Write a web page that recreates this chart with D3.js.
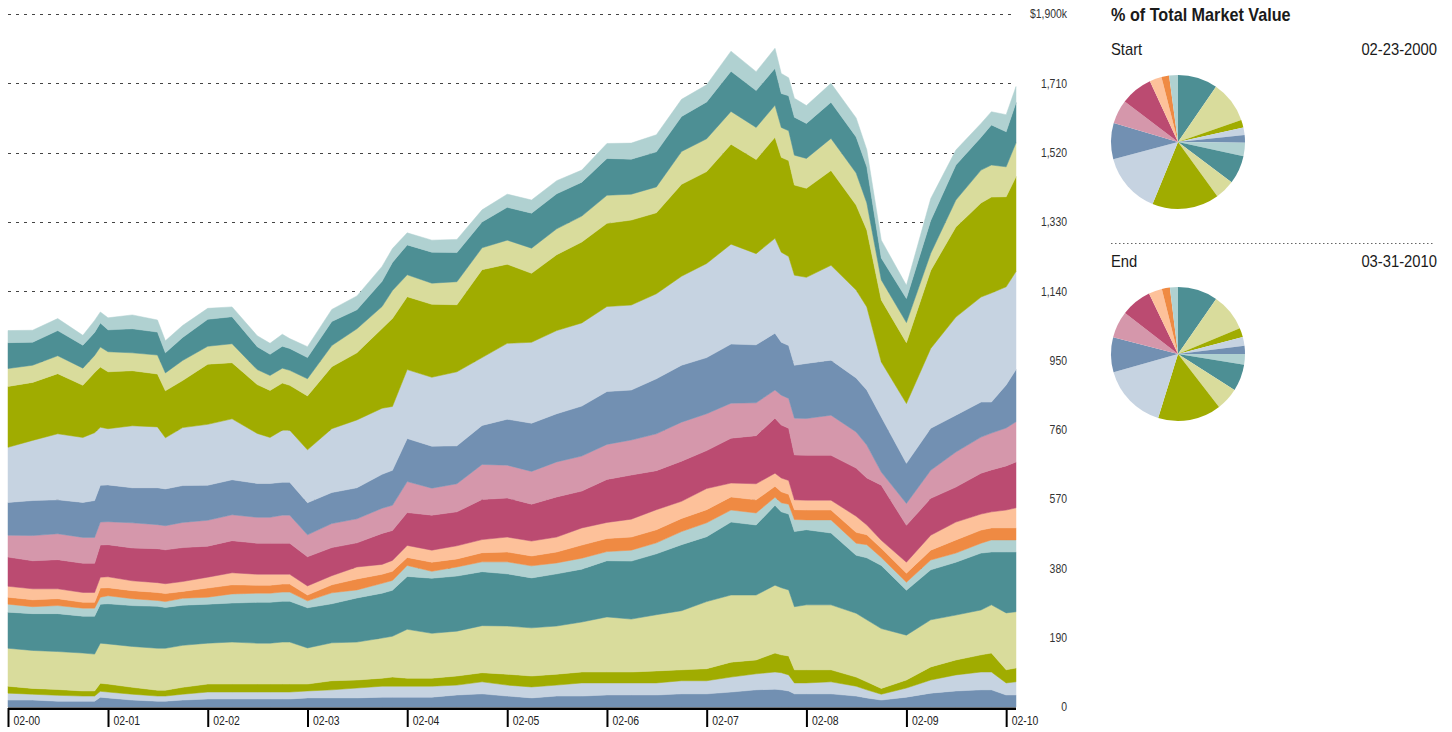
<!DOCTYPE html>
<html><head><meta charset="utf-8">
<script src="https://cdn.jsdelivr.net/npm/d3@7"></script>
<style>
body{margin:0;background:#fff;}
svg{display:block;font-family:"Liberation Sans",Arial,sans-serif;}
</style></head><body>
<svg id="chart" width="1452" height="732"></svg>
<script>
const dates = ["2000-02-23","2000-05-23","2000-08-23","2000-11-23",
"2001-01-05","2001-01-26","2001-02-23","2001-05-23","2001-08-23","2001-09-21","2001-11-23",
"2002-02-23","2002-05-23","2002-08-23","2002-10-09","2002-11-23","2002-12-20",
"2003-02-23","2003-05-23","2003-08-23","2003-11-23","2003-12-31",
"2004-02-23","2004-05-23","2004-08-23","2004-11-23",
"2005-02-23","2005-05-23","2005-08-23","2005-11-23",
"2006-02-23","2006-05-23","2006-08-23","2006-11-23",
"2007-02-23","2007-05-23","2007-08-23","2007-10-31","2007-11-23","2007-12-20",
"2008-01-10","2008-02-23","2008-05-23","2008-08-23","2008-10-01","2008-11-23",
"2009-02-23","2009-05-23","2009-08-23","2009-11-23","2009-12-31",
"2010-02-23","2010-03-31"];

// holdings, bottom of the stack first (values in $k)
const s01 = [19,19,16,16,16,27,25,19,16,16,19,22,22,22,22,22,22,25,25,25,27,27,27,27,33,36,30,25,30,30,33,33,33,36,36,41,47,49,47,44,36,36,36,30,25,19,27,38,44,47,47,33,33];
const s02 = [19,16,16,14,14,16,16,16,14,14,16,19,19,19,19,19,19,19,22,27,30,30,30,30,27,33,30,30,30,36,33,33,33,36,36,41,44,47,47,44,30,30,33,27,22,16,25,36,44,49,49,33,36];
const s03 = [19,16,16,14,14,22,22,19,16,16,19,22,22,22,22,22,22,19,25,22,22,25,22,22,25,25,30,30,30,30,30,30,33,30,33,41,38,52,49,52,36,36,33,25,22,16,22,36,41,47,52,36,38];
const s04 = [104,104,104,104,101,110,110,112,115,115,115,112,115,112,112,115,115,99,104,104,110,112,134,123,123,129,132,132,132,137,151,145,154,162,184,184,178,186,184,181,173,178,178,175,170,164,123,129,123,123,132,156,154];
const s05 = [99,101,104,101,104,107,110,112,115,112,110,107,107,112,112,112,112,110,107,121,123,126,145,151,151,148,143,137,143,145,154,159,167,181,178,200,192,219,208,208,206,206,197,159,170,173,123,137,145,156,145,167,164];
const s06 = [22,19,22,22,22,19,22,19,16,16,19,19,25,25,25,25,25,19,30,22,27,27,30,19,25,27,33,33,30,30,25,30,30,36,38,33,33,22,25,27,33,27,36,33,36,22,22,27,25,27,33,33,33];
const s07 = [19,19,19,16,16,25,22,22,22,22,19,25,25,22,22,22,22,16,22,30,25,25,22,25,22,25,27,27,30,36,36,36,36,36,36,36,36,30,30,27,27,27,27,30,27,25,25,27,36,36,33,33,33];
const s08 = [30,30,27,27,27,30,30,27,27,27,27,30,33,30,30,27,27,25,25,33,27,30,33,33,36,36,41,41,41,47,44,49,55,47,58,38,44,36,38,38,27,27,27,44,27,22,30,41,49,44,44,49,55];
const s09 = [80,77,80,80,80,88,88,90,93,93,93,85,88,85,85,85,85,80,77,66,85,82,90,96,93,110,107,101,110,101,118,121,107,110,104,123,132,151,145,143,123,123,123,132,129,151,101,101,96,112,115,121,126];
const s10 = [60,69,71,71,71,63,63,69,66,66,69,71,71,71,71,77,77,60,66,66,69,69,85,74,77,96,90,90,96,96,96,96,101,107,101,96,90,77,82,82,101,101,110,99,90,36,60,77,96,99,101,104,110];
const s11 = [90,96,93,96,101,101,101,96,101,101,101,96,96,93,93,90,90,88,85,85,93,96,118,115,104,107,126,132,132,137,145,137,151,156,154,162,159,156,145,145,145,151,151,148,151,151,110,115,101,96,85,118,143];
const s12 = [151,165,181,178,186,159,154,170,167,140,159,167,167,137,126,143,143,145,175,186,181,175,189,189,203,186,208,222,228,228,233,233,233,244,258,274,250,260,247,244,247,236,260,241,228,151,164,219,269,288,299,269,269];
const s13 = [167,159,165,143,165,165,156,151,145,129,129,165,154,134,129,129,123,148,170,184,219,241,200,200,184,241,217,189,208,222,228,233,222,252,252,274,258,277,260,263,247,244,260,233,211,170,167,214,247,258,263,247,260];
const s14 = [49,47,49,47,47,55,55,49,52,49,55,49,52,41,41,41,41,47,58,66,60,77,60,58,63,60,66,69,71,71,77,71,71,90,90,90,88,88,82,82,82,82,88,88,74,55,55,47,74,90,88,82,93];
const s15 = [71,63,69,63,63,66,60,66,63,55,63,74,74,63,58,60,60,58,66,52,69,77,82,85,80,71,90,96,96,93,101,96,96,96,101,110,101,101,93,96,104,96,99,99,99,60,66,90,96,90,110,96,110];
const s16 = [33,33,33,27,33,30,33,38,33,33,33,30,27,30,30,33,27,30,33,38,41,38,33,33,36,33,36,36,36,33,41,44,47,47,47,55,52,55,55,49,52,49,52,52,47,49,36,60,41,38,36,47,44];

const palette = ["#7290b2","#c6d3e1","#a0ac00","#d9dc9c","#4d8f94","#b0d1d1","#ef8a43","#fdc19a","#bb4b71","#d597ab"];
const layerColors = [0,1,2,3,4,5,6,7,8,9,0,1,2,3,4,5].map(i => palette[i]);
const yTicks = [0,190,380,570,760,950,1140,1330,1520,1710,1900];
const xTickDates = ["2000-02-23","2001-02-23","2002-02-23","2003-02-23","2004-02-23","2005-02-23","2006-02-23","2007-02-23","2008-02-23","2009-02-23","2010-02-23"];
const pieOrder = [4,3,2,1,0,15,14,13,12,11,10,9,8,7,6,5];
const title = "% of Total Market Value";
const startText = ["Start","02-23-2000"];
const endText = ["End","03-31-2010"];

const SX = 0.87; // condensed look
const parse = d3.timeParse("%Y-%m-%d");
const series = [s01,s02,s03,s04,s05,s06,s07,s08,s09,s10,s11,s12,s13,s14,s15,s16];
const keys = series.map((_, i) => "k" + i);
const rows = dates.map((d, j) => {
  const o = {date: parse(d)};
  series.forEach((s, i) => o[keys[i]] = s[j]);
  return o;
});
const stacked = d3.stack().keys(keys)(rows);

const svg = d3.select("#chart");
const x = d3.scaleTime().domain([parse(dates[0]), parse(dates[dates.length-1])]).range([8, 1016]);
const y = d3.scaleLinear().domain([0, 1900]).range([707, 14]);

// gridlines
svg.append("g").selectAll("line").data(yTicks.filter(t => t > 0)).join("line")
  .attr("x1", 8).attr("x2", 1014)
  .attr("y1", d => Math.round(y(d)) + 0.5).attr("y2", d => Math.round(y(d)) + 0.5)
  .attr("stroke", "#444").attr("stroke-width", 1).attr("stroke-dasharray", "3,5");

// areas
const area = d3.area().x(d => x(d.data.date)).y0(d => y(d[0])).y1(d => y(d[1]));
svg.append("g").selectAll("path").data(stacked).join("path")
  .attr("d", area)
  .attr("fill", (d, i) => layerColors[i])
  .attr("stroke", (d, i) => layerColors[i]).attr("stroke-width", 0.5);

// y labels
const yAxis = d3.axisLeft(y).tickValues(yTicks).tickSize(0).tickPadding(0)
  .tickFormat(d => d === 1900 ? "$" + d3.format(",")(d) + "k" : d3.format(",")(d));
const ya = svg.append("g").attr("transform", "translate(1067,0)").call(yAxis);
ya.select(".domain").remove();
ya.selectAll("text").attr("font-size", 12).attr("fill", "#333")
  .attr("font-family", "'Liberation Sans',Arial,sans-serif")
  .attr("transform", `scale(${SX},1)`);

// x axis
const xAxis = d3.axisBottom(x).tickValues(xTickDates.map(parse)).tickSize(19).tickPadding(0)
  .tickFormat(d3.timeFormat("%m-%y"));
const xa = svg.append("g").attr("transform", "translate(0,708)").call(xAxis);
xa.select(".domain").remove();
xa.selectAll(".tick line").attr("stroke", "#000").attr("stroke-width", 2);
xa.selectAll(".tick text").attr("text-anchor", "start").attr("x", 5 / SX).attr("y", 17).attr("dy", 0)
  .attr("font-size", 12).attr("fill", "#222")
  .attr("font-family", "'Liberation Sans',Arial,sans-serif")
  .attr("transform", `scale(${SX},1)`);
svg.append("line").attr("x1", 8).attr("x2", 1016).attr("y1", 708.7).attr("y2", 708.7)
  .attr("stroke", "#000").attr("stroke-width", 2.4);

// side panel
function label(txt, tx, ty, size, anchor, weight, sx) {
  svg.append("text").attr("transform", `translate(${tx},${ty}) scale(${sx},1)`)
    .attr("font-size", size).attr("font-weight", weight).attr("text-anchor", anchor)
    .attr("fill", "#1a1a1a").text(txt);
}
label(title, 1111, 21, 18, "start", "bold", 0.9);
function panel(lbl, yText, cy, idx) {
  label(lbl[0], 1111, yText, 17, "start", "normal", SX);
  label(lbl[1], 1437, yText, 17, "end", "normal", SX);
  const vals = pieOrder.map(k => ({k, v: series[k][idx]}));
  const pie = d3.pie().sort(null).value(d => d.v)(vals);
  const arc = d3.arc().innerRadius(0).outerRadius(67);
  svg.append("g").attr("transform", `translate(1178,${cy})`).selectAll("path").data(pie).join("path")
    .attr("d", arc).attr("fill", d => layerColors[d.data.k]);
}
panel(startText, 55, 142, 0);
svg.append("line").attr("x1", 1111).attr("x2", 1434).attr("y1", 243.5).attr("y2", 243.5)
  .attr("stroke", "#666").attr("stroke-width", 1).attr("stroke-dasharray", "1.5,2.5");
panel(endText, 267, 354, dates.length - 1);
</script></body></html>
